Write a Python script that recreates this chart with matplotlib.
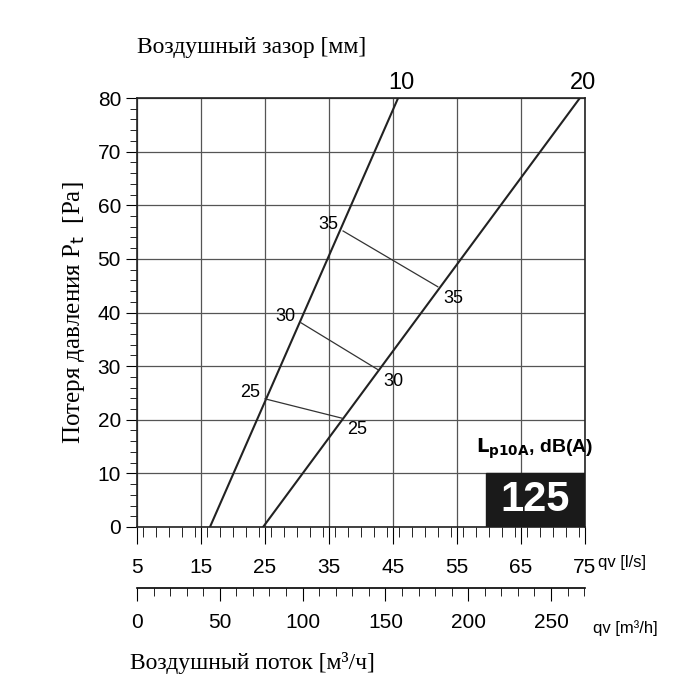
import matplotlib
matplotlib.use("Agg")
import matplotlib.pyplot as plt
import numpy as np
from matplotlib.ticker import MultipleLocator

gap_labels = ["10", "20"]
gap_x = [[16.4, 45.8], [24.7, 74.2]]
gap_y = [[0, 80], [0, 80]]
noise_labels = ["35", "30", "25"]
noise_x = [[37.2, 52.0], [30.6, 42.7], [25.0, 37.0]]
noise_y = [[55.2, 44.8], [38.1, 29.3], [23.9, 20.3]]
x_ticks = [5, 15, 25, 35, 45, 55, 65, 75]
y_ticks = [0, 10, 20, 30, 40, 50, 60, 70, 80]
m3h_ticks = [0, 50, 100, 150, 200, 250]

sans = "Liberation Sans"
serif = "Liberation Serif"
fig = plt.figure(figsize=(7, 7), dpi=100)
ax = fig.add_axes([137/700, 1-527/700, 448/700, 429/700])
ax.set_xlim(5, 75); ax.set_ylim(0, 80)
ax.set_xticks(x_ticks); ax.set_yticks(y_ticks)
ax.xaxis.set_minor_locator(MultipleLocator(2))
ax.yaxis.set_minor_locator(MultipleLocator(2))
ax.grid(True, which="major", color="#555555", lw=0.9)
ax.tick_params(axis="x", which="major", direction="out", length=12, labelsize=15, pad=10)
ax.tick_params(axis="x", which="minor", direction="out", length=7)
ax.tick_params(axis="y", which="major", direction="out", length=8, labelsize=15)
ax.tick_params(axis="y", which="minor", direction="out", length=5)
for lab in ax.get_xticklabels() + ax.get_yticklabels():
    lab.set_family(sans)
for sp in ax.spines.values():
    sp.set_color("#222222"); sp.set_linewidth(1.2)

for lab, xs, ys in zip(gap_labels, gap_x, gap_y):
    ax.plot(xs, ys, color="#222222", lw=1.5)
    ax.text(xs[1] + 0.5, ys[1] + 0.8, lab, fontsize=17, family=sans, ha="center", va="bottom", clip_on=False)
for lab, xs, ys in zip(noise_labels, noise_x, noise_y):
    ax.plot(xs, ys, color="#333333", lw=0.9)
    ax.text(xs[0] - 0.8, ys[0] + 1.2, lab, fontsize=13, family=sans, ha="right", va="center")
    ax.text(xs[1] + 0.8, ys[1] - 2.2, lab, fontsize=13, family=sans, ha="left", va="center")

fig.text(598/700, 1-562/700, "qv [l/s]", fontsize=12, family=sans, va="center")
ax.add_patch(plt.Rectangle((59.5, 0), 15.5, 10, color="#1a1a1a", zorder=3))
ax.text(67.2, 5, "125", fontsize=30, fontweight="bold", color="white", family=sans, ha="center", va="center", zorder=4)
ax.text(67.2, 14.5, r"$\mathbf{L_{p10A}}$, dB(A)", fontsize=14, fontweight="bold", family=sans, ha="center", va="center")

ax.set_ylabel("Потеря давления P$_{\\mathrm{t}}$  [Pa]", fontsize=18, family=serif, labelpad=8)
fig.text(137/700, 1-47/700, "Воздушный зазор [мм]", fontsize=17, family=serif, va="center")
fig.text(130/700, 1-663/700, "Воздушный поток [м³/ч]", fontsize=17, family=serif, va="center")

ax2 = fig.add_axes([137/700, 1-588/700, 448/700, 0.001])
ax2.set_xlim(0, 270.5)
for s in ["top", "right", "left"]:
    ax2.spines[s].set_visible(False)
ax2.spines["bottom"].set_linewidth(1.2)
ax2.set_yticks([])
ax2.set_xticks(m3h_ticks)
ax2.xaxis.set_minor_locator(MultipleLocator(10))
ax2.tick_params(axis="x", which="major", length=9, labelsize=15, pad=9)
ax2.tick_params(axis="x", which="minor", length=6)
for lab in ax2.get_xticklabels():
    lab.set_family(sans)
fig.text(593/700, 1-628/700, "qv [m³/h]", fontsize=12, family=sans, va="center")

fig.savefig("out.png", dpi=100, facecolor="white")
